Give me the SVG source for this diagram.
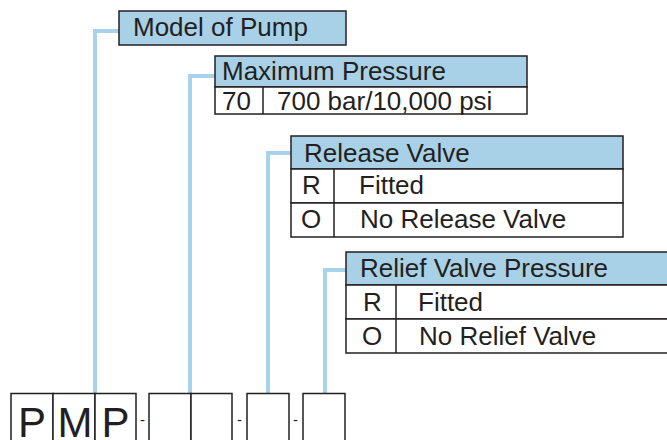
<svg xmlns="http://www.w3.org/2000/svg" width="667" height="440" viewBox="0 0 667 440">
<style>
.bg{fill:#ffffff}
.hd{fill:#a8d1e7;stroke:#231f20;stroke-width:1.5}
.row{fill:#ffffff;stroke:#231f20;stroke-width:1.5}
.ln{fill:none;stroke:#231f20;stroke-width:1.5}
.cn{fill:none;stroke:#a9d3ea;stroke-width:4}
text{font-family:"Liberation Sans",Arial,sans-serif;fill:#231f20}
.t{font-size:26px}
.big{font-size:42px;text-anchor:middle}
.dash{font-size:15px}
</style>
<rect class="bg" x="0" y="0" width="667" height="440"/>
<g id="connectors">
<polyline class="cn" points="95,394 95,31 119,31"/>
<polyline class="cn" points="190,394 190,76 215,76"/>
<polyline class="cn" points="268,394 268,153 291,153"/>
<polyline class="cn" points="325,394 325,270 346,270"/>
</g>
<g id="model-of-pump">
<rect class="hd" x="119" y="11" width="227" height="34"/>
<text class="t" x="133" y="36">Model of Pump</text>
</g>
<g id="maximum-pressure">
<rect class="hd" x="215" y="56" width="312" height="31"/>
<rect class="row" x="215" y="87" width="312" height="27"/>
<line class="ln" x1="263" y1="87" x2="263" y2="114"/>
<text class="t" x="222" y="80">Maximum Pressure</text>
<text class="t" x="222" y="110">70</text>
<text class="t" x="277" y="110">700 bar/10,000 psi</text>
</g>
<g id="release-valve">
<rect class="hd" x="291" y="136" width="332" height="33"/>
<rect class="row" x="291" y="169" width="332" height="34"/>
<rect class="row" x="291" y="203" width="332" height="34"/>
<line class="ln" x1="334" y1="169" x2="334" y2="237"/>
<text class="t" x="304" y="162">Release Valve</text>
<text class="t" x="302" y="194">R</text>
<text class="t" x="359" y="194">Fitted</text>
<text class="t" x="301" y="228">O</text>
<text class="t" x="360" y="228">No Release Valve</text>
</g>
<g id="relief-valve-pressure">
<rect class="hd" x="346" y="252" width="330" height="33"/>
<rect class="row" x="346" y="285" width="330" height="34"/>
<rect class="row" x="346" y="319" width="330" height="34"/>
<line class="ln" x1="396" y1="285" x2="396" y2="353"/>
<text class="t" x="360" y="277">Relief Valve Pressure</text>
<text class="t" x="363" y="311">R</text>
<text class="t" x="418" y="311">Fitted</text>
<text class="t" x="362" y="345">O</text>
<text class="t" x="419" y="345">No Relief Valve</text>
</g>
<g id="code-boxes">
<rect class="row" x="11" y="393.5" width="42" height="60"/>
<rect class="row" x="53" y="393.5" width="42" height="60"/>
<rect class="row" x="95" y="393.5" width="41" height="60"/>
<text class="big" x="32" y="437">P</text>
<text class="big" x="75" y="437">M</text>
<text class="big" x="115.5" y="437">P</text>
<text class="dash" x="140" y="425">-</text>
<rect class="row" x="149" y="393.5" width="42" height="60"/>
<rect class="row" x="191" y="393.5" width="41" height="60"/>
<text class="dash" x="237" y="425">-</text>
<rect class="row" x="247" y="393.5" width="42" height="60"/>
<text class="dash" x="293" y="425">-</text>
<rect class="row" x="303" y="393.5" width="42" height="60"/>
</g>
</svg>
